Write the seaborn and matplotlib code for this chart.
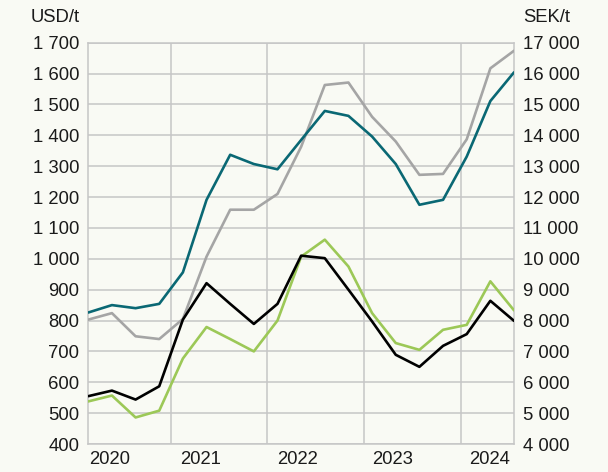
import numpy as np
import pandas as pd
import matplotlib
matplotlib.use("Agg")
import matplotlib.pyplot as plt
import seaborn as sns

# quarterly observations, 2020 Q1 .. 2024 Q3
quarters = np.arange(19)

teal = [826, 850, 840, 854, 956, 1191, 1337, 1307, 1290, 1385,
        1479, 1463, 1396, 1307, 1175, 1191, 1331, 1511, 1604]
grey = [803, 824, 749, 740, 805, 1007, 1159, 1159, 1210, 1363,
        1563, 1571, 1460, 1380, 1272, 1275, 1387, 1617, 1674]
black = [555, 573, 544, 587, 803, 921, 854, 789, 854, 1010,
         1002, 900, 797, 689, 650, 718, 756, 864, 799]
green = [538, 557, 486, 508, 677, 779, 740, 700, 800, 1007,
         1062, 975, 824, 727, 705, 770, 786, 927, 833]

year_labels = ["2020", "2021", "2022", "2023", "2024"]
year_label_pos = [0.9, 4.75, 8.85, 12.85, 16.95]
year_edges = [3.5, 7.57, 11.66, 15.75]

usd_ticks = list(range(400, 1701, 100))
sek_ticks = list(range(4000, 17001, 1000))

BG = "#f9faf4"
GRID = "#c6c6c6"
TXT = "#1a1a1a"
FS = 13.3
colors = {"teal": "#0a6874", "grey": "#a5a5a5", "black": "#000000", "green": "#9cc857"}

df = pd.DataFrame({
    "q": np.tile(quarters, 4),
    "value": teal + grey + black + green,
    "serie": ["teal"] * 19 + ["grey"] * 19 + ["black"] * 19 + ["green"] * 19,
})

sns.set_style("white")
plt.rcParams["font.family"] = ["Liberation Sans", "DejaVu Sans"]

fig = plt.figure(figsize=(6.08, 4.72), dpi=100, facecolor=BG)
ax = fig.add_axes([0.1452, 0.0593, 0.7002, 0.8502])
ax.set_facecolor(BG)

sns.lineplot(data=df, x="q", y="value", hue="serie", palette=colors,
             hue_order=["grey", "teal", "green", "black"],
             linewidth=1.9, legend=False, ax=ax, zorder=3)

ax.set_xlim(0, 18)
ax.set_ylim(400, 1700)
ax.set_yticks(usd_ticks)
ax.set_yticklabels([f"{v:,}".replace(",", " ") for v in usd_ticks])
ax.set_xticks(year_label_pos)
ax.set_xticklabels(year_labels)
ax.set_xticks(year_edges, minor=True)
ax.set_xlabel("")
ax.set_ylabel("")
ax.grid(axis="y", color=GRID, linewidth=1.1, zorder=0)
ax.grid(axis="x", which="minor", color=GRID, linewidth=1.1, zorder=0)
ax.tick_params(axis="both", which="both", length=0, labelsize=FS, colors=TXT)
ax.tick_params(axis="y", pad=6.5)
ax.tick_params(axis="x", pad=5)
for s in ax.spines.values():
    s.set_color(GRID)
    s.set_linewidth(1.1)

ax2 = ax.twinx()
ax2.set_ylim(4000, 17000)
ax2.set_yticks(sek_ticks)
ax2.set_yticklabels([f"{v:,}".replace(",", " ") for v in sek_ticks])
ax2.tick_params(axis="y", length=0, labelsize=FS, colors=TXT, pad=6.5)
for s in ax2.spines.values():
    s.set_visible(False)

fig.text(0.1316, 0.962, "USD/t", ha="right", va="center", fontsize=FS, color=TXT)
fig.text(0.860, 0.962, "SEK/t", ha="left", va="center", fontsize=FS, color=TXT)

fig.savefig("out.png", dpi=100, facecolor=BG)
